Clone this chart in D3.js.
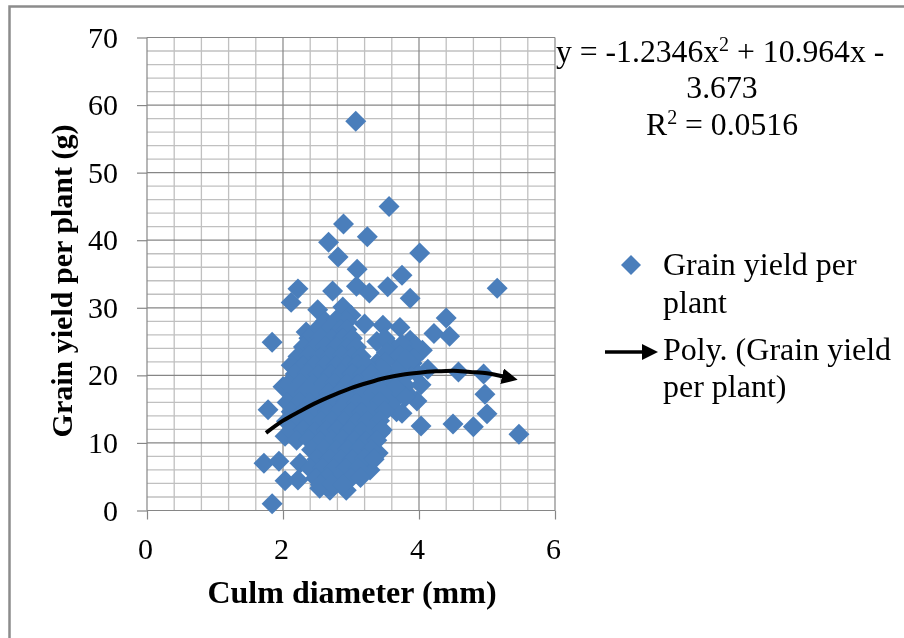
<!DOCTYPE html>
<html>
<head>
    <title>Grain yield per plant</title>
    <script src="https://d3js.org/d3.v7.min.js"></script>
    <style>
        body { margin: 0; background: #fff; }
        svg { filter: blur(0.45px); }
        text { font-family: "Liberation Serif", serif; fill: #000; }
    </style>
</head>
<body>
<div id="my_dataviz"></div>

<script>
    // values, the dense middle is estimated row by row
    var culmDiameter = [
        3.07, 3.56, 2.89, 3.24, 2.67, 4.01, 2.81, 3.09, 3.75, 3.08, 3.54, 5.15, 2.22, 2.73, 3.27, 3.87, 2.12, 2.88, 2.51, 3.0,
        4.4, 3.2, 3.47, 3.72, 4.22, 2.34, 4.45, 1.84, 3.87, 4.05, 1.78, 1.72, 1.94, 1.84, 2.03, 2.25, 4.03, 3.28, 2.93, 2.54,
        2.69, 2.22, 2.0, 2.03, 3.43, 3.4, 3.67, 3.97, 4.13, 4.03, 3.82, 3.57, 3.38, 3.67, 3.9, 4.5, 4.58, 4.95, 4.97, 5.0,
        4.8, 5.47, 3.55, 3.75, 3.95,
        3.38, 3.5, 3.6, 3.75, 3.52, 3.55, 3.72, 3.85, 3.62, 3.78,
        3.5, 3.7, 3.5, 3.62, 3.8, 3.95, 3.92, 3.45, 3.6, 3.82, 3.8, 3.65,
        2.62, 2.78, 2.94,
        2.5, 2.68, 2.85, 2.94,
        2.38, 2.55, 2.72, 2.88, 3.02,
        2.3, 2.46, 2.62, 2.78, 2.94, 3.08,
        2.22, 2.38, 2.55, 2.7, 2.87, 3.02, 3.15,
        2.12, 2.3, 2.46, 2.62, 2.78, 2.95, 3.1, 3.22,
        2.18, 2.36, 2.52, 2.7, 2.86, 3.02, 3.17, 3.3,
        2.08, 2.26, 2.44, 2.6, 2.76, 2.93, 3.1, 3.25, 3.38,
        2.14, 2.32, 2.5, 2.67, 2.84, 3.0, 3.17, 3.33, 3.46,
        2.06, 2.24, 2.4, 2.58, 2.75, 2.92, 3.08, 3.25, 3.42,
        2.12, 2.3, 2.48, 2.65, 2.82, 3.0, 3.16, 3.32, 3.5,
        2.05, 2.2, 2.38, 2.56, 2.72, 2.9, 3.07, 3.24, 3.42,
        2.12, 2.3, 2.46, 2.64, 2.8, 2.98, 3.15, 3.32, 3.46,
        2.2, 2.38, 2.54, 2.72, 2.88, 3.05, 3.22, 3.38,
        2.42, 2.6, 2.78, 2.95, 3.12, 3.3,
        2.5, 2.68, 2.85, 3.02, 3.2, 3.34,
        2.4, 2.58, 2.75, 2.92, 3.1,
        2.48, 2.65, 2.82, 3.0, 3.14,
        2.55, 2.72, 2.88
    ];
    var grainYield = [
        57.6, 45.0, 42.4, 40.5, 39.7, 38.1, 37.5, 35.7, 34.8, 33.2, 33.1, 32.9, 32.8, 32.5, 32.2, 31.4, 30.8, 30.1, 29.7, 28.9,
        28.5, 27.6, 27.4, 27.1, 26.2, 26.4, 25.8, 24.9, 25.2, 23.7, 14.9, 7.0, 7.3, 1.0, 4.4, 7.0, 12.5, 6.0, 3.0, 3.3,
        3.0, 4.5, 18.3, 11.0, 11.5, 8.5, 14.6, 16.2, 20.9, 18.6, 17.4, 17.4, 21.8, 22.3, 21.8, 12.8, 20.5, 20.2, 17.2, 14.3,
        12.4, 11.3, 15.8, 14.4, 24.4,
        25.0, 25.5, 24.2, 24.6, 23.4, 20.2, 23.0, 23.0, 19.0, 19.8,
        22.0, 21.0, 19.0, 17.6, 18.5, 20.5, 22.5, 21.0, 16.0, 22.3, 16.8, 18.2,
        28.0, 28.2, 28.0,
        26.8, 26.9, 26.8, 26.8,
        25.5, 25.6, 25.4, 25.5, 25.5,
        24.2, 24.1, 24.3, 24.2, 24.1, 24.2,
        22.8, 22.9, 22.7, 22.8, 22.9, 22.8, 22.8,
        21.5, 21.4, 21.6, 21.5, 21.4, 21.5, 21.6, 21.5,
        20.2, 20.3, 20.1, 20.2, 20.3, 20.2, 20.1, 20.2,
        18.8, 18.9, 18.7, 18.8, 18.9, 18.8, 18.7, 18.8, 18.9,
        17.4, 17.5, 17.3, 17.4, 17.5, 17.4, 17.3, 17.4, 17.5,
        16.0, 16.1, 15.9, 16.0, 16.1, 16.0, 15.9, 16.0, 16.1,
        14.6, 14.7, 14.5, 14.6, 14.7, 14.6, 14.5, 14.6, 14.7,
        13.2, 13.3, 13.1, 13.2, 13.3, 13.2, 13.1, 13.2, 13.3,
        11.8, 11.9, 11.7, 11.8, 11.9, 11.8, 11.7, 11.8, 11.9,
        10.4, 10.5, 10.3, 10.4, 10.5, 10.4, 10.3, 10.4,
        9.0, 9.1, 8.9, 9.0, 9.1, 9.0,
        7.6, 7.7, 7.5, 7.6, 7.7, 7.6,
        6.2, 6.3, 6.1, 6.2, 6.3,
        4.8, 4.9, 4.7, 4.8, 4.9,
        3.8, 3.9, 3.8
    ];

    var trendX = [1.75, 2, 2.25, 2.5, 2.75, 3, 3.25, 3.5, 3.75, 4, 4.25, 4.5, 4.75, 5, 5.25];
    var trendY = [11.5, 13.3, 14.7, 16.0, 17.1, 18.1, 18.9, 19.6, 20.1, 20.4, 20.6, 20.7, 20.5, 20.3, 19.8];

    var xTicks = [0, 2, 4, 6];
    var yTicks = [0, 10, 20, 30, 40, 50, 60, 70];
    var xMinor = [0.4, 0.8, 1.2, 1.6, 2.4, 2.8, 3.2, 3.6, 4.4, 4.8, 5.2, 5.6];
    var yMinor = [2, 4, 6, 8, 12, 14, 16, 18, 22, 24, 26, 28, 32, 34, 36, 38, 42, 44, 46, 48, 52, 54, 56, 58, 62, 64, 66, 68];

    var equationLines = ["3.673"];
    var legendMarkerLines = ["Grain yield per", "plant"];
    var legendTrendLines = ["Poly. (Grain yield", "per plant)"];

    var width = 904, height = 638;
    var blue = "#4a7ebb", majorGrey = "#868686", minorGrey = "#c0c0c0";

    var svg = d3.select("#my_dataviz")
        .append("svg")
        .attr("width", width)
        .attr("height", height)
        .style("display", "block");

    // the chart frame, only top and left are in the picture
    svg.append("path")
        .attr("d", "M9.5,638V6.5H904")
        .attr("fill", "none")
        .attr("stroke", "#8c8c8c")
        .attr("stroke-width", 2.5);

    var x = d3.scaleLinear().domain([0, 6]).range([147, 555]);
    var y = d3.scaleLinear().domain([0, 70]).range([510.5, 37.5]);

    // minor grid
    svg.append("g").selectAll("line").data(xMinor).join("line")
        .attr("x1", d => x(d)).attr("x2", d => x(d))
        .attr("y1", y(70)).attr("y2", y(0))
        .attr("stroke", minorGrey).attr("stroke-width", 1.3);
    svg.append("g").selectAll("line").data(yMinor).join("line")
        .attr("x1", x(0)).attr("x2", x(6))
        .attr("y1", d => y(d)).attr("y2", d => y(d))
        .attr("stroke", minorGrey).attr("stroke-width", 1.3);

    // major grid
    svg.append("g").selectAll("line").data(xTicks).join("line")
        .attr("x1", d => x(d)).attr("x2", d => x(d))
        .attr("y1", y(70)).attr("y2", y(0))
        .attr("stroke", majorGrey).attr("stroke-width", 1.2);
    svg.append("g").selectAll("line").data(yTicks).join("line")
        .attr("x1", x(0)).attr("x2", x(6))
        .attr("y1", d => y(d)).attr("y2", d => y(d))
        .attr("stroke", majorGrey).attr("stroke-width", 1.2);

    // axes
    var xAxis = svg.append("g")
        .attr("transform", "translate(0," + y(0) + ")")
        .call(d3.axisBottom(x).tickValues(xTicks).tickSize(9).tickPadding(18).tickFormat(d3.format("d")));
    var yAxis = svg.append("g")
        .attr("transform", "translate(" + x(0) + ",0)")
        .call(d3.axisLeft(y).tickValues(yTicks).tickSize(10).tickPadding(19).tickFormat(d3.format("d")));
    [xAxis, yAxis].forEach(function(a) {
        a.select(".domain").remove();
        a.selectAll("line").attr("stroke", majorGrey).attr("stroke-width", 1.2);
        a.selectAll("text").style("font-size", "30px").style("font-family", '"Liberation Serif", serif').attr("fill", "#222");
    });
    xAxis.selectAll("text").attr("dx", -2);

    // the points
    var diamond = d3.symbol().type(d3.symbolSquare).size(220);
    svg.append("g").selectAll("path").data(culmDiameter).join("path")
        .attr("d", diamond)
        .attr("transform", (d, i) => "translate(" + x(d) + "," + y(grainYield[i]) + ") rotate(45)")
        .attr("fill", blue);

    // trend line with arrow
    svg.append("defs").append("marker")
        .attr("id", "arrow")
        .attr("markerUnits", "userSpaceOnUse")
        .attr("viewBox", "0 0 16 16")
        .attr("refX", 2).attr("refY", 8)
        .attr("markerWidth", 16).attr("markerHeight", 16)
        .attr("orient", "auto")
        .append("path").attr("d", "M0,0L16,8L0,16Z").attr("fill", "#000");

    var line = d3.line().x(d => x(d)).y((d, i) => y(trendY[i])).curve(d3.curveMonotoneX);
    svg.append("path")
        .datum(trendX)
        .attr("d", line)
        .attr("fill", "none")
        .attr("stroke", "#000")
        .attr("stroke-width", 4)
        .attr("marker-end", "url(#arrow)");

    // axis titles
    svg.append("text")
        .attr("x", 352).attr("y", 603)
        .attr("text-anchor", "middle")
        .style("font-size", "32px").style("font-weight", "bold")
        .text("Culm diameter (mm)");
    svg.append("text")
        .attr("transform", "translate(72,281) rotate(-90)")
        .attr("text-anchor", "middle")
        .style("font-size", "30px").style("font-weight", "bold")
        .text("Grain yield per plant (g)");

    // trend equation
    var eq1 = svg.append("text").attr("x", 556).attr("y", 62).style("font-size", "31.7px");
    eq1.append("tspan").text("y = -1.2346x");
    eq1.append("tspan").attr("dy", -11).style("font-size", "20px").text("2");
    eq1.append("tspan").attr("dy", 11).text(" + 10.964x -");
    svg.append("text").attr("x", 722).attr("y", 98).attr("text-anchor", "middle")
        .style("font-size", "31.7px").text(equationLines[0]);
    var eq2 = svg.append("text").attr("x", 722).attr("y", 135).attr("text-anchor", "middle").style("font-size", "31.7px");
    eq2.append("tspan").text("R");
    eq2.append("tspan").attr("dy", -11).style("font-size", "20px").text("2");
    eq2.append("tspan").attr("dy", 11).text(" = 0.0516");

    // legend
    svg.append("path")
        .attr("d", d3.symbol().type(d3.symbolSquare).size(200))
        .attr("transform", "translate(631,265) rotate(45)")
        .attr("fill", blue);
    svg.selectAll(".legendA").data(legendMarkerLines).join("text")
        .attr("class", "legendA")
        .attr("x", 663).attr("y", (d, i) => 275 + i * 38)
        .style("font-size", "32px").text(d => d);
    svg.append("line")
        .attr("x1", 605).attr("x2", 644).attr("y1", 352).attr("y2", 352)
        .attr("stroke", "#000").attr("stroke-width", 3.5)
        .attr("marker-end", "url(#arrow)");
    svg.selectAll(".legendB").data(legendTrendLines).join("text")
        .attr("class", "legendB")
        .attr("x", 663).attr("y", (d, i) => 360 + i * 37)
        .style("font-size", "32px").text(d => d);
</script>
</body>
</html>
